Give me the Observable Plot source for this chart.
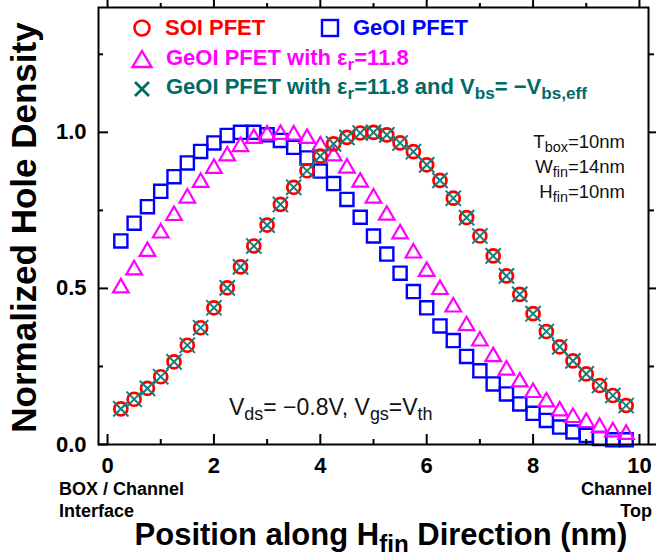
<!DOCTYPE html>
<html>
<head>
<meta charset="utf-8">
<script src="https://cdn.jsdelivr.net/npm/d3@7"></script>
<script src="https://cdn.jsdelivr.net/npm/@observablehq/plot@0.6"></script>
<style>
  html, body { margin: 0; padding: 0; background: #fff; }
  #wrap { position: relative; width: 656px; height: 557px; overflow: hidden; font-family: "Liberation Sans", Arial, sans-serif; }
  #wrap svg { display: block; }
  .t { position: absolute; white-space: nowrap; line-height: 1; }
  .b { font-weight: bold; }
  sub { font-size: 78%; vertical-align: -0.28em; line-height: 0; }
</style>
</head>
<body>
<div id="wrap"></div>
<script>
// ---- data ----
const position = [0.25, 0.5, 0.75, 1.0, 1.25, 1.5, 1.75, 2.0, 2.25, 2.5, 2.75, 3.0, 3.25, 3.5, 3.75,
  4.0, 4.25, 4.5, 4.75, 5.0, 5.25, 5.5, 5.75, 6.0, 6.25, 6.5, 6.75, 7.0, 7.25, 7.5, 7.75,
  8.0, 8.25, 8.5, 8.75, 9.0, 9.25, 9.5, 9.75];

const soiPfet = [0.114, 0.145, 0.180, 0.217, 0.265, 0.318, 0.374, 0.438, 0.502, 0.569, 0.636, 0.703, 0.769, 0.824, 0.877,
  0.924, 0.963, 0.984, 0.998, 1.000, 0.992, 0.966, 0.938, 0.896, 0.846, 0.789, 0.727, 0.668, 0.604, 0.540, 0.481,
  0.419, 0.362, 0.313, 0.268, 0.226, 0.189, 0.157, 0.125];

const geoiPfet = [0.652, 0.709, 0.762, 0.811, 0.858, 0.902, 0.939, 0.966, 0.990, 1.000, 1.000, 0.992, 0.974, 0.952, 0.918,
  0.876, 0.836, 0.785, 0.728, 0.668, 0.610, 0.549, 0.490, 0.438, 0.380, 0.333, 0.282, 0.236, 0.194, 0.162, 0.130,
  0.100, 0.077, 0.056, 0.040, 0.029, 0.019, 0.015, 0.015];

const geoiEps = [0.508, 0.566, 0.625, 0.684, 0.740, 0.796, 0.846, 0.891, 0.931, 0.961, 0.987, 0.998, 1.000, 0.998, 0.987,
  0.963, 0.931, 0.892, 0.847, 0.796, 0.741, 0.681, 0.620, 0.561, 0.503, 0.447, 0.387, 0.338, 0.288, 0.245, 0.207,
  0.173, 0.143, 0.114, 0.093, 0.077, 0.061, 0.047, 0.039];

const geoiEpsVbs = [0.114, 0.145, 0.180, 0.217, 0.265, 0.318, 0.374, 0.438, 0.502, 0.569, 0.636, 0.703, 0.769, 0.824, 0.877,
  0.924, 0.963, 0.984, 0.998, 1.000, 0.992, 0.966, 0.938, 0.896, 0.846, 0.789, 0.727, 0.668, 0.604, 0.540, 0.481,
  0.419, 0.362, 0.313, 0.268, 0.226, 0.189, 0.157, 0.125];

const xMajorTicks = [0, 2, 4, 6, 8, 10];
const xMinorTicks = [1, 3, 5, 7, 9];
const yMajorTicks = [0, 0.5, 1.0];
const yMinorTicks = [0.25, 0.75, 1.25];

const RED = "#ff0000", BLUE = "#0000ff", MAGENTA = "#ff00ff", TEAL = "#127f7c", TEAL_TEXT = "#006a66";

const rows = (vals) => position.map((x, i) => ({x, y: vals[i]}));

const chart = Plot.plot({
  width: 656,
  height: 557,
  marginLeft: 98,
  marginRight: 8,
  marginTop: 7,
  marginBottom: 113,
  x: {domain: [-0.17, 10.17]},
  y: {domain: [0, 1.4]},
  style: {fontFamily: "'Liberation Sans', Arial, sans-serif", background: "white", color: "black"},
  marks: [
    // data
    Plot.dot(rows(geoiPfet), {x: "x", y: "y", symbol: "square", r: 7.4, stroke: BLUE, strokeWidth: 2.4, fill: "none"}),
    Plot.dot(rows(geoiEps), {x: "x", y: "y", symbol: "triangle", r: 5.8, dy: 2, stroke: MAGENTA, strokeWidth: 2.2, fill: "none"}),
    Plot.dot(rows(soiPfet), {x: "x", y: "y", symbol: "circle", r: 6.5, stroke: RED, strokeWidth: 2.7, fill: "none"}),
    Plot.dot(rows(geoiEpsVbs), {x: "x", y: "y", symbol: "times", r: 7.0, stroke: TEAL, strokeWidth: 2, fill: "none"}),
    // frame & axes
    Plot.frame({stroke: "black", strokeWidth: 2}),
    Plot.axisX({ticks: xMajorTicks, anchor: "bottom", tickSize: -10, tickPadding: 23, strokeWidth: 2,
      tickFormat: d => String(d), fontSize: 22, fontWeight: "bold", label: null}),
    Plot.axisX({ticks: xMinorTicks, anchor: "bottom", tickSize: -5, strokeWidth: 2, tickFormat: () => "", label: null}),
    Plot.axisX({ticks: xMajorTicks, anchor: "top", tickSize: 8, strokeWidth: 2, tickFormat: () => "", label: null}),
    Plot.axisX({ticks: xMinorTicks, anchor: "top", tickSize: 5, strokeWidth: 2, tickFormat: () => "", label: null}),
    Plot.axisY({ticks: yMajorTicks, anchor: "left", tickSize: -10, tickPadding: 22, strokeWidth: 2,
      tickFormat: d3.format(".1f"), fontSize: 22, fontWeight: "bold", label: null}),
    Plot.axisY({ticks: yMinorTicks, anchor: "left", tickSize: -5, strokeWidth: 2, tickFormat: () => "", label: null}),
    Plot.axisY({ticks: yMajorTicks, anchor: "right", tickSize: 8, strokeWidth: 2, tickFormat: () => "", label: null}),
    Plot.axisY({ticks: yMinorTicks, anchor: "right", tickSize: 5, strokeWidth: 2, tickFormat: () => "", label: null})
  ]
});

const wrap = document.getElementById("wrap");
wrap.appendChild(chart);

function addText(html, css, cls = "t") {
  const d = document.createElement("div");
  d.className = cls;
  d.innerHTML = html;
  Object.assign(d.style, css);
  wrap.appendChild(d);
  return d;
}

// Legend symbols (inline svg overlay)
const ns = "http://www.w3.org/2000/svg";
const lg = document.createElementNS(ns, "svg");
lg.setAttribute("width", 656); lg.setAttribute("height", 120);
lg.style.position = "absolute"; lg.style.left = "0px"; lg.style.top = "0px";
lg.innerHTML = `
  <circle cx="142" cy="28" r="7.5" fill="none" stroke="${RED}" stroke-width="2.6"/>
  <rect x="322" y="20" width="16" height="16" fill="none" stroke="${BLUE}" stroke-width="2.4"/>
  <path d="M142,51 L151.5,67 L132.5,67 Z" fill="none" stroke="${MAGENTA}" stroke-width="2.4"/>
  <path d="M135,82 L149,96 M149,82 L135,96" fill="none" stroke="${TEAL_TEXT}" stroke-width="2.8"/>`;
wrap.appendChild(lg);

// Legend texts
addText("SOI PFET", {left: "165px", top: "17px", fontSize: "22px", color: RED}, "t b");
addText("GeOI PFET", {left: "353px", top: "17px", fontSize: "22px", color: BLUE}, "t b");
addText("GeOI PFET with ε<sub>r</sub>=11.8", {left: "166px", top: "47px", fontSize: "22px", color: MAGENTA}, "t b");
addText("GeOI PFET with ε<sub>r</sub>=11.8 and V<sub>bs</sub>= −V<sub>bs,eff</sub>", {left: "166px", top: "76px", fontSize: "22px", color: TEAL_TEXT}, "t b");

// Device parameters
addText("T<sub>box</sub>=10nm<br>W<sub>fin</sub>=14nm<br>H<sub>fin</sub>=10nm",
  {right: "31px", top: "129px", fontSize: "18.5px", lineHeight: "25px", textAlign: "right", color: "#111"});

// Bias condition
addText("V<sub>ds</sub>= −0.8V, V<sub>gs</sub>=V<sub>th</sub>", {left: "229px", top: "396px", fontSize: "23px", color: "#111"});

// Axis end notes
addText("BOX / Channel", {left: "59px", top: "480px", fontSize: "18px"}, "t b");
addText("Interface", {left: "59px", top: "502px", fontSize: "18px"}, "t b");
addText("Channel", {right: "4px", top: "480px", fontSize: "18px", textAlign: "right"}, "t b");
addText("Top", {right: "4px", top: "502px", fontSize: "18px", textAlign: "right"}, "t b");

// Axis titles
addText("Position along H<sub>fin</sub> Direction (nm)", {left: "81px", width: "600px", textAlign: "center", top: "519px", fontSize: "31px"}, "t b");
addText("Normalized Hole Density", {left: "-227px", width: "500px", textAlign: "center", top: "210px", fontSize: "35px", transform: "rotate(-90deg)"}, "t b");
</script>
</body>
</html>
